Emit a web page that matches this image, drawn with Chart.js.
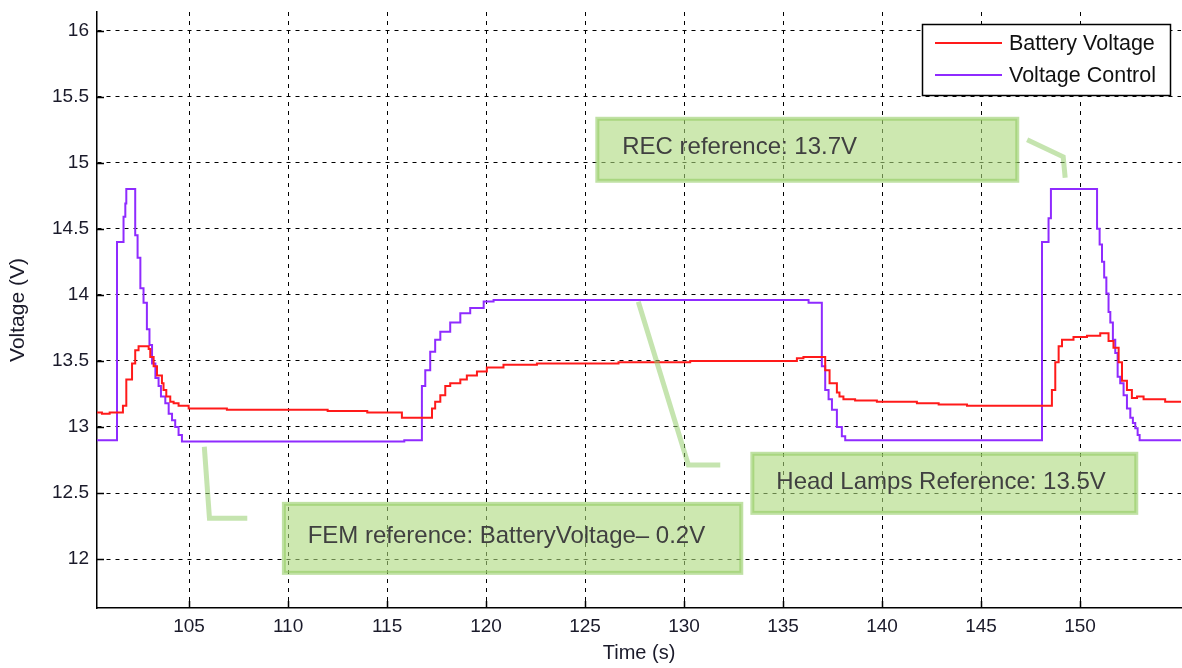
<!DOCTYPE html>
<html>
<head>
<meta charset="utf-8">
<script src="https://cdn.jsdelivr.net/npm/chart.js@4"></script>
<style>
  html, body { margin: 0; padding: 0; background: #fff; }
  #wrap { width: 1182px; height: 668px; }
</style>
</head>
<body>
<div id="wrap"><canvas id="myGraph"></canvas></div>
<script>
// time (s) where each new value starts, and the value (V)
const batteryTime = [100.35, 100.6, 100.99, 101.66, 101.83, 102.12, 102.28, 102.45, 102.96, 103.04,
  103.21, 103.38, 103.63, 103.71, 103.85, 104.05, 104.22, 104.47, 104.98, 106.91, 108.5, 112, 114,
  115.75, 117.27, 117.43, 117.69, 117.94, 118.19, 118.7, 119.03, 119.54, 120.04, 120.88, 122.57,
  126.69, 130.31, 135.7, 136.03, 137.13, 137.35, 137.72, 137.85, 138.05, 138.64, 139.74, 141.76,
  142.86, 144.29, 148.58, 148.75, 148.92, 149.09, 149.67, 150.35, 151.02, 151.44, 151.69, 151.95,
  152.12, 152.37, 152.62, 152.88, 153.21, 154.3, 155.1];
const batteryVolt = [13.11, 13.10, 13.11, 13.16, 13.36, 13.48, 13.58, 13.61, 13.59, 13.53,
  13.46, 13.39, 13.33, 13.28, 13.23, 13.19, 13.18, 13.16, 13.14, 13.13, 13.13, 13.12, 13.11,
  13.07, 13.14, 13.19, 13.24, 13.31, 13.33, 13.36, 13.39, 13.42, 13.45, 13.47, 13.48,
  13.49, 13.50, 13.52, 13.53, 13.43, 13.33, 13.26, 13.23, 13.21, 13.20, 13.19, 13.18,
  13.17, 13.16, 13.28, 13.49, 13.61, 13.66, 13.68, 13.69, 13.71, 13.65, 13.60, 13.49,
  13.35, 13.28, 13.22, 13.23, 13.21, 13.19, 13.19];

const controlTime = [100.35, 101.36, 101.69, 101.78, 101.83, 102.28, 102.4, 102.54, 102.7, 102.87,
  103.0, 103.13, 103.3, 103.46, 103.58, 103.8, 103.97, 104.14, 104.3, 104.47, 104.64, 115.87,
  116.76, 116.93, 117.18, 117.43, 117.69, 118.19, 118.7, 119.2, 119.88, 120.38, 136.29, 136.96,
  137.13, 137.3, 137.47, 137.72, 137.97, 138.14, 148.08, 148.41, 148.53, 150.86, 150.99, 151.11,
  151.22, 151.33, 151.44, 151.53, 151.66, 151.78, 151.9, 152.03, 152.2, 152.37, 152.54, 152.67,
  152.79, 152.91, 153.01, 155.1];
const controlVolt = [12.9, 14.4, 14.59, 14.69, 14.8, 14.45, 14.28, 14.05, 13.94, 13.74,
  13.62, 13.48, 13.37, 13.31, 13.23, 13.18, 13.1, 13.05, 13.0, 12.94, 12.89, 12.9,
  13.31, 13.43, 13.57, 13.66, 13.72, 13.79, 13.86, 13.9, 13.95, 13.96, 13.94, 13.46,
  13.28, 13.21, 13.13, 13.0, 12.93, 12.9, 14.4, 14.58, 14.8, 14.5, 14.38, 14.25,
  14.13, 14.01, 13.87, 13.79, 13.66, 13.56, 13.38, 13.33, 13.24, 13.14, 13.07, 13.03,
  12.99, 12.94, 12.9, 12.9];

const xTicks = [105, 110, 115, 120, 125, 130, 135, 140, 145, 150];
const yTicks = [12, 12.5, 13, 13.5, 14, 14.5, 15, 15.5, 16];

// text boxes on the plot, placed in data units
const notes = [
  { text: 'REC reference: 13.7V', box: [125.62, 146.83, 15.332, 14.863], tx: 126.88, ty: 15.112,
    leader: [[147.33, 15.173], [149.15, 15.044], [149.25, 14.885]] },
  { text: 'FEM reference: BatteryVoltage\u2013 0.2V', box: [109.79, 132.89, 12.418, 11.896], tx: 110.99, ty: 12.169,
    leader: [[105.77, 12.85], [106.03, 12.31], [107.94, 12.31]] },
  { text: 'Head Lamps Reference: 13.5V', box: [133.45, 152.84, 12.797, 12.35], tx: 134.66, ty: 12.577,
    leader: [[127.69, 13.947], [130.22, 12.713], [131.83, 12.713]] }
];

const FONT = '"Liberation Sans", Arial, sans-serif';

const pts = (t, v) => t.map((x, i) => ({ x: x, y: v[i] }));

const overlay = {
  id: 'overlay',
  afterDatasetsDraw(chart) {
    const { ctx, chartArea: a, scales: { x, y } } = chart;
    ctx.save();
    // inward tick marks
    ctx.strokeStyle = '#000';
    ctx.lineWidth = 1.5;
    ctx.setLineDash([]);
    ctx.beginPath();
    xTicks.forEach(v => {
      const px = Math.round(x.getPixelForValue(v)) + 0.5;
      ctx.moveTo(px, a.bottom); ctx.lineTo(px, a.bottom - 7);
    });
    yTicks.forEach(v => {
      const py = Math.round(y.getPixelForValue(v)) + 0.5;
      ctx.moveTo(a.left, py); ctx.lineTo(a.left + 7, py);
    });
    ctx.stroke();

    // annotations
    notes.forEach(n => {
      ctx.strokeStyle = 'rgba(150, 205, 110, 0.55)';
      ctx.lineWidth = 5;
      ctx.lineJoin = 'miter';
      ctx.beginPath();
      n.leader.forEach((p, i) => {
        const px = x.getPixelForValue(p[0]), py = y.getPixelForValue(p[1]);
        if (i === 0) ctx.moveTo(px, py); else ctx.lineTo(px, py);
      });
      ctx.stroke();

      const x0 = x.getPixelForValue(n.box[0]), x1 = x.getPixelForValue(n.box[1]);
      const y0 = y.getPixelForValue(n.box[2]), y1 = y.getPixelForValue(n.box[3]);
      ctx.fillStyle = 'rgba(172, 217, 123, 0.6)';
      ctx.fillRect(x0, y0, x1 - x0, y1 - y0);
      ctx.strokeStyle = 'rgba(140, 200, 90, 0.55)';
      ctx.lineWidth = 4;
      ctx.strokeRect(x0, y0, x1 - x0, y1 - y0);

      ctx.fillStyle = '#404040';
      ctx.font = '24px ' + FONT;
      ctx.textBaseline = 'middle';
      ctx.textAlign = 'left';
      ctx.fillText(n.text, x.getPixelForValue(n.tx), y.getPixelForValue(n.ty));
    });

    // legend box
    const bw = 248, bh = 71;
    const bx = a.right - 11 - bw, by = a.top + 12;
    ctx.fillStyle = '#fff';
    ctx.fillRect(bx, by, bw, bh);
    ctx.strokeStyle = '#000';
    ctx.lineWidth = 1.5;
    ctx.strokeRect(bx + 0.5, by + 0.5, bw, bh);
    chart.data.datasets.forEach((ds, i) => {
      const ly = by + 19 + i * 32;
      ctx.strokeStyle = ds.borderColor;
      ctx.lineWidth = 2;
      ctx.beginPath();
      ctx.moveTo(bx + 13, ly); ctx.lineTo(bx + 80, ly);
      ctx.stroke();
      ctx.fillStyle = '#111';
      ctx.font = '21.5px ' + FONT;
      ctx.textBaseline = 'middle';
      ctx.fillText(ds.label, bx + 87, ly + 1);
    });
    ctx.restore();
  }
};

const graph = document.getElementById('myGraph');

const myGraph = new Chart(graph, {
  type: 'line',
  data: {
    datasets: [
      {
        label: 'Battery Voltage',
        data: pts(batteryTime, batteryVolt),
        borderColor: '#ff1a1a',
        borderWidth: 2,
        stepped: true,
        pointRadius: 0,
        fill: false
      },
      {
        label: 'Voltage Control',
        data: pts(controlTime, controlVolt),
        borderColor: '#8f2bff',
        borderWidth: 2,
        stepped: true,
        pointRadius: 0,
        fill: false
      }
    ]
  },
  options: {
    responsive: true,
    maintainAspectRatio: false,
    animation: false,
    events: [],
    layout: { padding: { top: 12, right: 1, left: 0, bottom: 0 } },
    plugins: {
      legend: { display: false },
      tooltip: { enabled: false }
    },
    scales: {
      x: {
        type: 'linear',
        min: 100.35,
        max: 155.1,
        afterBuildTicks: s => { s.ticks = xTicks.map(v => ({ value: v })); },
        afterFit: s => { s.height = 60; s.paddingLeft = 0; s.paddingRight = 0; },
        grid: { color: '#000', lineWidth: 1, drawTicks: false },
        border: { display: true, color: '#000', width: 1.5, dash: [4, 5] },
        ticks: {
          padding: 7,
          color: '#1a1a2a',
          font: { family: FONT, size: 19 },
          maxRotation: 0,
          callback: v => String(v)
        },
        title: {
          display: true,
          text: 'Time (s)',
          color: '#1a1a2a',
          font: { family: FONT, size: 20 },
          padding: { top: 0, bottom: 3 }
        }
      },
      y: {
        min: 11.63,
        max: 16.14,
        afterBuildTicks: s => { s.ticks = yTicks.map(v => ({ value: v })); },
        afterFit: s => { s.width = 97; s.paddingTop = 0; s.paddingBottom = 0; },
        grid: { color: '#000', lineWidth: 1, drawTicks: false },
        border: { display: true, color: '#000', width: 1.5, dash: [4, 5] },
        ticks: {
          padding: 8,
          color: '#1a1a2a',
          font: { family: FONT, size: 19 },
          callback: v => String(v)
        },
        title: {
          display: true,
          text: 'Voltage (V)',
          color: '#1a1a2a',
          font: { family: FONT, size: 21 },
          padding: { top: 6, bottom: 0 }
        }
      }
    }
  },
  plugins: [overlay]
});
</script>
</body>
</html>
